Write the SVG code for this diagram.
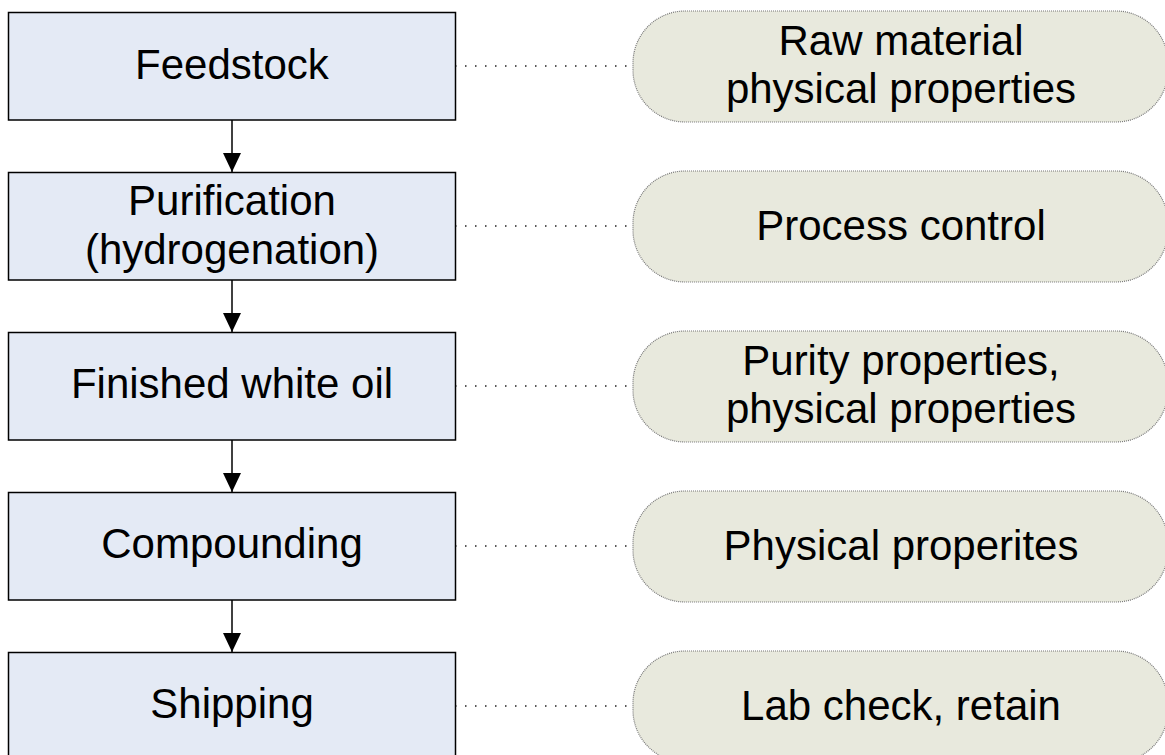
<svg xmlns="http://www.w3.org/2000/svg" width="1165" height="755" viewBox="0 0 1165 755">
<defs>
<style>
.box{fill:#E4EAF5;stroke:#000;stroke-width:1.5}
.pill{fill:#E8E9DD;stroke:#777;stroke-width:1.2;stroke-dasharray:1 1}
.t{font-family:"Liberation Sans",Arial,sans-serif;font-size:42px;fill:#000;text-anchor:middle}
.flow{stroke:#000;stroke-width:1.5;fill:none}
.dot{stroke:#222;stroke-width:1.6;stroke-dasharray:1.5 8.5;fill:none}
</style>
<marker id="ah" markerWidth="19" markerHeight="18" refX="19" refY="9" orient="auto" markerUnits="userSpaceOnUse" viewBox="0 0 19 18">
<path d="M0,0 L19,9 L0,18 Z" fill="#000"/>
</marker>
</defs>
<rect width="1165" height="755" fill="#fff"/>
<g id="connectors">
<line class="flow" x1="232" y1="120" x2="232" y2="172" marker-end="url(#ah)"/>
<line class="flow" x1="232" y1="280" x2="232" y2="332" marker-end="url(#ah)"/>
<line class="flow" x1="232" y1="440" x2="232" y2="492" marker-end="url(#ah)"/>
<line class="flow" x1="232" y1="600" x2="232" y2="652" marker-end="url(#ah)"/>
<line class="dot" x1="455" y1="66" x2="633" y2="66"/>
<line class="dot" x1="455" y1="226" x2="633" y2="226"/>
<line class="dot" x1="455" y1="386" x2="633" y2="386"/>
<line class="dot" x1="455" y1="546" x2="633" y2="546"/>
<line class="dot" x1="455" y1="706" x2="633" y2="706"/>
</g>
<g id="feedstock"><rect class="box" x="8.5" y="12.5" width="447" height="107.5"/><text class="t" x="232" y="79">Feedstock</text></g>
<g id="purification"><rect class="box" x="8.5" y="172.5" width="447" height="107.5"/><text class="t" x="232" y="215">Purification</text><text class="t" x="232" y="264">(hydrogenation)</text></g>
<g id="finished"><rect class="box" x="8.5" y="332.5" width="447" height="107.5"/><text class="t" x="232" y="398">Finished white oil</text></g>
<g id="compounding"><rect class="box" x="8.5" y="492.5" width="447" height="107.5"/><text class="t" x="232" y="558">Compounding</text></g>
<g id="shipping"><rect class="box" x="8.5" y="652.5" width="447" height="107.5"/><text class="t" x="232" y="718">Shipping</text></g>
<g id="raw"><rect class="pill" x="633" y="11" width="535" height="111" rx="52" ry="52"/><text class="t" x="901" y="55">Raw material</text><text class="t" x="901" y="103">physical properties</text></g>
<g id="process"><rect class="pill" x="633" y="171" width="535" height="111" rx="52" ry="52"/><text class="t" x="901" y="240">Process control</text></g>
<g id="purity"><rect class="pill" x="633" y="331" width="535" height="111" rx="52" ry="52"/><text class="t" x="901" y="375">Purity properties,</text><text class="t" x="901" y="423">physical properties</text></g>
<g id="physical"><rect class="pill" x="633" y="491" width="535" height="111" rx="52" ry="52"/><text class="t" x="901" y="560">Physical properites</text></g>
<g id="lab"><rect class="pill" x="633" y="651" width="535" height="111" rx="52" ry="52"/><text class="t" x="901" y="720">Lab check, retain</text></g>
</svg>
